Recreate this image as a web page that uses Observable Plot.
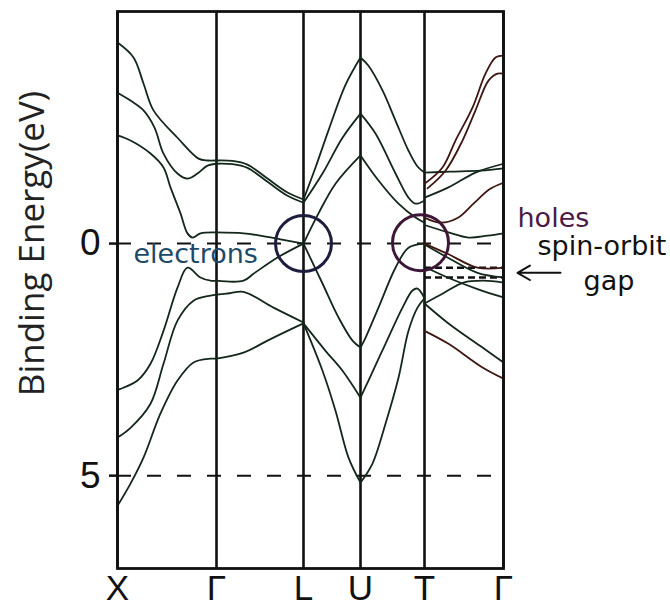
<!DOCTYPE html>
<html>
<head>
<meta charset="utf-8">
<script src="https://cdn.jsdelivr.net/npm/d3@7"></script>
<script src="https://cdn.jsdelivr.net/npm/@observablehq/plot@0.6"></script>
<style>
  html, body { margin: 0; padding: 0; background: #fff; }
</style>
</head>
<body>
<div id="chart"></div>
<script>
// ---- symmetry points (k along path) ----
const symK = [0, 99, 186, 243, 307, 386];
const symLabels = ["X", "Γ", "L", "U", "T", "Γ"];
const yTicks = [0, 5];
const guideE = [0, 5];
const soGapE = [0.52, 0.73];
const soGapK = [307, 386];

// ---- bands per segment: [k, binding energy eV] ----
const segXG = [
  [[0,-4.33],[16,-4.01],[26,-3.45],[36,-2.87],[60,-2.28],[81,-1.83],[90,-1.79],[99,-1.79]],
  [[0,-3.25],[13,-3.08],[26,-2.87],[37,-2.5],[46,-1.94],[60,-1.51],[70,-1.40],[80,-1.51],[90,-1.68],[99,-1.72]],
  [[0,-2.33],[13,-2.22],[33,-1.94],[46,-1.64],[53,-1.21],[63,-0.65],[70,-0.22],[75,-0.13],[83,-0.22],[99,-0.24]],
  [[0,3.15],[3,3.13],[20,2.95],[33,2.59],[46,1.88],[60,0.95],[70,0.52],[83,0.73],[93,0.80],[99,0.80]],
  [[0,4.18],[13,3.97],[33,3.45],[46,2.59],[60,1.66],[76,1.23],[93,1.12],[99,1.10]],
  [[0,5.65],[13,5.17],[26,4.61],[43,3.66],[60,2.95],[76,2.56],[93,2.48],[99,2.48]]
];
const segGL = [
  [[99,-1.79],[115,-1.78],[130,-1.70],[150,-1.40],[170,-1.10],[186,-0.95]],
  [[99,-1.72],[115,-1.71],[130,-1.63],[150,-1.33],[170,-1.03],[186,-0.88]],
  [[99,-0.24],[126,-0.22],[143,-0.17],[163,-0.09],[186,0]],
  [[99,0.80],[126,0.80],[136,0.65],[160,0.30],[186,0]],
  [[99,1.10],[112,1.07],[126,1.04],[156,1.38],[186,1.70]],
  [[99,2.48],[126,2.35],[150,2.09],[170,1.88],[186,1.72]]
];
const segLU = [
  [[186,-0.95],[198,-1.64],[211,-2.44],[228,-3.42],[243,-4.01]],
  [[186,-0.88],[205,-1.51],[225,-2.28],[243,-2.80]],
  [[186,0],[201,-0.65],[218,-1.29],[243,-1.90]],
  [[186,0],[205,0.86],[221,1.59],[235,2.09],[243,2.24]],
  [[186,1.72],[208,2.31],[225,2.74],[243,3.32]],
  [[186,1.72],[205,2.74],[218,3.60],[231,4.61],[243,5.15]]
];
const segUT = [
  [[243,-4.01],[251,-3.83],[265,-3.30],[278,-2.65],[291,-2.0],[300,-1.66],[307,-1.53]],
  [[243,-2.80],[258,-2.37],[278,-1.51],[291,-0.99],[298,-0.86],[307,-0.93]],
  [[243,-1.90],[261,-1.36],[281,-0.86],[298,-0.56],[307,-0.45]],
  [[243,2.24],[248,2.03],[261,1.38],[278,0.52],[291,0.09],[307,0]],
  [[243,3.32],[251,2.95],[268,2.16],[285,1.38],[295,1.01],[300,0.97],[307,1.18]],
  [[243,5.15],[255,4.74],[268,3.88],[281,2.89],[291,1.88],[300,1.38],[307,1.18]]
];
const segTG = [
  [[307,-1.53],[333,-1.55],[363,-1.57],[386,-1.62]],
  [[307,-0.99],[331,-1.21],[358,-1.53],[386,-1.72]],
  [[307,-1.29],[325,-1.64],[338,-2.22],[355,-2.93],[368,-3.66],[378,-4.01],[386,-4.05]],
  [[310,-1.19],[328,-1.57],[345,-2.22],[358,-2.87],[371,-3.51],[380,-3.66],[386,-3.66]],
  [[307,-0.56],[323,-0.45],[340,-0.55],[356,-0.86],[372,-1.17],[386,-1.31]],
  [[307,-0.40],[331,-0.24],[351,-0.13],[370,-0.17],[386,-0.22]],
  [[307,0],[330,0.22],[360,0.52],[386,0.52]],
  [[307,0.02],[330,0.30],[360,0.63],[386,0.73]],
  [[307,1.29],[325,1.08],[346,0.84],[366,0.80],[386,0.84]],
  [[307,0.5],[330,0.73],[360,0.98],[386,1.16]],
  [[307,1.29],[331,1.72],[365,2.24],[386,2.56]],
  [[307,1.88],[331,2.16],[365,2.67],[386,2.91]]
];
const segTGSpinOrbit = [false, false, true, true, true, false, true, false, false, false, false, true];

// ---- annotations ----
const notes = [
  {text: "electrons", k: 16, e: 0.24, color: "#1d4a68"},
  {text: "holes", k: 400, e: -0.55, color: "#4b1a45"},
  {text: "spin-orbit", k: 420, e: 0.05, color: "#111111"},
  {text: "gap", k: 466, e: 0.81, color: "#111111"}
];
const circles = [
  {k: 186, e: 0, color: "#1d1d3d"},
  {k: 303, e: -0.02, color: "#3d1638"}
];
const arrows = [{k1: 443, k2: 400, e: 0.63}];
const yLabel = [{text: "Binding Energy(eV)", e: 0}];

// ---- build line rows ----
const rows = [];
function addSeg(name, seg, so) {
  seg.forEach((band, i) => {
    band.forEach(([k, e]) => rows.push({k, e, id: name + i, so: so ? so[i] : false}));
  });
}
addSeg("XG", segXG);
addSeg("GL", segGL);
addSeg("LU", segLU);
addSeg("UT", segUT);
addSeg("TG", segTG, segTGSpinOrbit);

const labelOf = new Map(symK.map((k, i) => [k, symLabels[i]]));

const chart = Plot.plot({
  width: 670,
  height: 607,
  marginLeft: 117,
  marginRight: 167,
  marginTop: 11,
  marginBottom: 39,
  style: {background: "#fff", fontFamily: "Liberation Sans, Arial, sans-serif", color: "#111"},
  x: {domain: [0, 386]},
  y: {domain: [-5, 7], reverse: true},
  marks: [
    Plot.ruleY(guideE, {stroke: "#111", strokeWidth: 2, strokeDasharray: "14,16"}),
    Plot.ruleY(soGapE, {x1: soGapK[0], x2: soGapK[1], stroke: "#111", strokeWidth: 2.6, strokeDasharray: "7,4"}),
    Plot.ruleX(symK, {stroke: "#111", strokeWidth: 2.6}),
    Plot.line(rows.filter(d => !d.so), {x: "k", y: "e", z: "id", stroke: "#13281a", strokeWidth: 1.8, curve: "catmull-rom"}),
    Plot.line(rows.filter(d => d.so), {x: "k", y: "e", z: "id", stroke: "#3e1712", strokeWidth: 1.8, curve: "catmull-rom"}),
    Plot.dot(circles, {x: "k", y: "e", r: 28, stroke: "color", strokeWidth: 3, fill: "none"}),
    Plot.text(notes, {x: "k", y: "e", text: "text", fill: "color", textAnchor: "start", fontSize: 27, fontFamily: "DejaVu Sans"}),
    Plot.arrow(arrows, {x1: "k1", y1: "e", x2: "k2", y2: "e", stroke: "#111", strokeWidth: 2, headLength: 11}),
    Plot.text(yLabel, {y: "e", text: "text", frameAnchor: "left", textAnchor: "middle", dx: -85, rotate: -90, fontSize: 35, fontFamily: "Open Sans", fill: "#222"}),
    Plot.axisX(symK, {tickFormat: d => labelOf.get(d), tickSize: 0, tickPadding: 7, fontSize: 35, label: null}),
    Plot.axisY(yTicks, {tickSize: 8, tickPadding: 9, fontSize: 37, label: null, strokeWidth: 2.5}),
    Plot.frame({stroke: "#111", strokeWidth: 2.8})
  ]
});
document.getElementById("chart").appendChild(chart);
</script>
</body>
</html>
